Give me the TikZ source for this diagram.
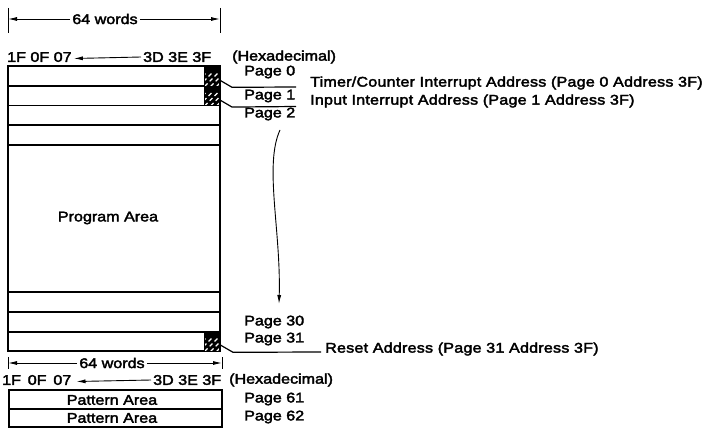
\documentclass[tikz,border=0pt]{standalone}
\usepackage{fontspec}
\setmainfont{Liberation Sans}[FakeStretch=1.15,FakeBold=2.6]
\newfontfamily\largo{Liberation Sans}[FakeStretch=1.15,FakeBold=2.6,LetterSpace=1.5]
\usetikzlibrary{arrows.meta}

\begin{document}
\begin{tikzpicture}[x=1pt,y=-1pt,>={Latex[length=9pt,width=4pt]},font=\fontsize{14}{16}\selectfont]

    \tikzset{
        rotulo/.style={inner sep=0pt,anchor=west},
        celula/.style={minimum width=15pt,inner sep=0pt,draw=black,line width=0.6pt,fill=black,
            path picture={
                \foreach \d in {-12,-6,...,18}
                    \draw[white,line width=1.1pt,dash pattern=on 4pt off 3pt]
                        ([xshift=\d pt]path picture bounding box.south west) -- ++(14,-14);
            }},
        linha/.style={line width=1.2pt},
        contorno/.style={line width=1.8pt},
        cota/.style={line width=0.9pt}
    }
    \useasboundingbox (0,0) rectangle (702,428);

    \def\xe{8}   % borda esquerda da memoria
    \def\xd{220} % borda direita da memoria

    % 1. Cota superior (64 palavras)
    \draw[cota] (\xe,8) -- (\xe,33);
    \draw[cota] (\xd,8) -- (\xd,33);
    \coordinate (cotaE) at (\xe,19);
    \coordinate (cotaD) at (\xd,19);
    \node[fill=white,inner sep=2pt] (palavras) at (105,19) {64 words};
    \draw[->,cota] (palavras) -- (cotaE);
    \draw[->,cota] (palavras) -- (cotaD);

    % 2. Enderecos (hexadecimal)
    \node[rotulo] (hexE) at (7,57) {1F 0F 07};
    \node[rotulo] (hexD) at (143,57) {3D 3E 3F};
    \node[rotulo] (hexa) at (232,57) {(Hexadecimal)};
    \draw[->,cota] ([xshift=-2pt]hexD.west) -- ([xshift=2pt,yshift=-1.5pt]hexE.east);

    % 3. Area de programa (paginas 0 a 31)
    \draw[contorno] (\xe,66) rectangle (\xd,351);
    \foreach \y in {86,105.5,125,145,292,312,332}
        \draw[linha] (\xe,\y) -- (\xd,\y);
    \node (programa) at (108,218) {Program Area};

    % celulas hachuradas (endereco 3F)
    \node[celula,minimum height=20pt,anchor=north east] (c0) at (\xd,66) {};
    \node[celula,minimum height=19.5pt,anchor=north east] (c1) at (\xd,86) {};
    \node[celula,minimum height=19pt,anchor=north east] (c31) at (\xd,332) {};

    % rotulos das paginas
    \node[rotulo] (p0) at (244,72) {Page 0};
    \node[rotulo] (p1) at (244,96) {Page 1};
    \node[rotulo] (p2) at (244,114) {Page 2};
    \node[rotulo] (p30) at (244,322) {Page 30};
    \node[rotulo] (p31) at (244,339) {Page 31};

    % 4. Enderecos de interrupcao e reset
    \node[rotulo,font=\largo\fontsize{14}{16}\selectfont] (timer) at (310,83) {Timer/Counter Interrupt Address (Page 0 Address 3F)};
    \node[rotulo,font=\largo\fontsize{14}{16}\selectfont] (entrada) at (310,101) {Input Interrupt Address (Page 1 Address 3F)};
    \node[rotulo,font=\largo\fontsize{14}{16}\selectfont] (reset) at (325,349) {Reset Address (Page 31 Address 3F)};
    \coordinate (sub0) at (296,87);
    \coordinate (sub1) at (296,106.5);
    \coordinate (sub31) at (321,352);
    \draw[linha] ([yshift=-4pt]c0.east) -- ++(12,7) -- (sub0);
    \draw[linha] ([yshift=-4pt]c1.east) -- ++(12,7) -- (sub1);
    \draw[linha] ([yshift=-3pt]c31.east) -- ++(13,7.5) -- (sub31);

    % seta curva (paginas 2 ... 30)
    \coordinate (ini) at (280,130);
    \coordinate (fim) at (279,304);
    \draw[->,cota] (ini) .. controls (264,165) and (281,230) .. (fim);

    % 5. Cota inferior (64 palavras)
    \draw[cota] (\xe,357) -- (\xe,369);
    \draw[cota] (222,357) -- (222,369);
    \coordinate (cotaE2) at (\xe,363);
    \coordinate (cotaD2) at (222,363);
    \node[fill=white,inner sep=2pt] (palavras2) at (112,363) {64 words};
    \draw[->,cota] (palavras2) -- (cotaE2);
    \draw[->,cota] (palavras2) -- (cotaD2);

    \node[rotulo] (hexE2) at (2,380) {1F\, 0F\, 07};
    \node[rotulo] (hexD2) at (153,380) {3D 3E 3F};
    \node[rotulo] (hexa2) at (229,380) {(Hexadecimal)};
    \draw[->,cota] ([xshift=-2pt]hexD2.west) -- ([xshift=5pt,yshift=-1.5pt]hexE2.east);

    % 6. Area de padroes (paginas 61 e 62)
    \draw[contorno] (9,390) rectangle (222,427);
    \draw[linha] (9,409) -- (222,409);
    \node (padrao1) at (112,400) {Pattern Area};
    \node (padrao2) at (112,418) {Pattern Area};
    \node[rotulo] (p61) at (244,399) {Page 61};
    \node[rotulo] (p62) at (244,417) {Page 62};

\end{tikzpicture}
\end{document}
